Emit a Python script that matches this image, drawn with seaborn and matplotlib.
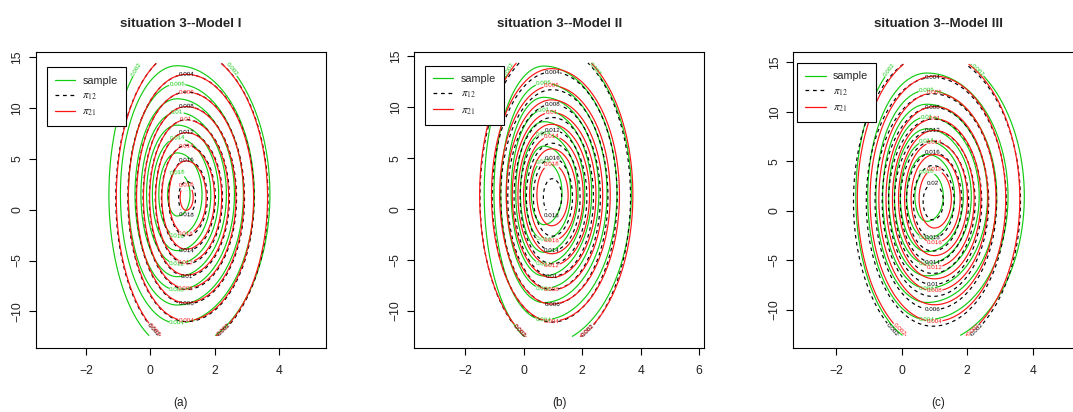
import numpy as np
import matplotlib
matplotlib.use('Agg')
import matplotlib.pyplot as plt
from matplotlib.lines import Line2D
from matplotlib.ticker import MultipleLocator
import seaborn as sns

sns.set_theme(style='white')
plt.rcParams['font.family'] = ['Liberation Sans', 'DejaVu Sans']
plt.rcParams['mathtext.fontset'] = 'stix'
plt.rcParams['lines.dashed_pattern'] = [3.0, 3.0]

# contour levels, titles, legend entries
levels = [0.002, 0.004, 0.006, 0.008, 0.010, 0.012, 0.014, 0.016, 0.018, 0.020]
titles = ['situation 3--Model I', 'situation 3--Model II', 'situation 3--Model III']
captions = ['(a)', '(b)', '(c)']
series = ['sample', r'$\pi_{12}$', r'$\pi_{21}$']

# density, order: sample, pi12, pi21
mode_x = [[0.83, 1.12, 1.11], [0.68, 0.97, 0.95], [0.77, 0.95, 1.00]]
mode_y = [[1.50, 1.15, 1.20], [1.60, 1.20, 1.40], [1.45, 0.90, 1.20]]
sd_left = [[1.00, 1.04, 1.03], [0.95, 1.17, 1.15], [1.02, 1.12, 1.10]]
sd_right = [[1.36, 1.20, 1.20], [1.40, 1.27, 1.30], [1.40, 1.24, 1.22]]
sd_y = [[7.20, 6.95, 6.95], [6.95, 7.00, 6.93], [7.03, 6.93, 6.94]]
peak = [[0.0188, 0.0185, 0.0183], [0.0199, 0.0186, 0.0198], [0.0192, 0.0207, 0.0197]]

# range of the evaluation grid in each panel
grid_x = [(-3.2, 5.1), (-3.4, 5.8), (-3.0, 5.2)]
grid_y = [(-12.4, 14.4), (-12.5, 14.35), (-12.6, 14.8)]

# style
colors = ['#12cc12', 'black', '#ff1414']
styles = ['solid', 'dashed', 'solid']
xlims = [(-3.55, 5.45), (-3.75, 6.18), (-3.31, 5.55)]
ylims = [(-13.64, 15.49), (-13.65, 15.40), (-13.9, 16.0)]
ax_left = [36 / 1073, 414.3 / 1073, 793.3 / 1073]
leg_anchor = [(0.037, 0.949), (0.037, 0.954), (0.014, 0.963)]


def density(g, k, X, Y):
    dx = X - mode_x[g][k]
    sx = np.where(dx < 0, sd_left[g][k], sd_right[g][k])
    q = (dx / sx) ** 2 + ((Y - mode_y[g][k]) / sd_y[g][k]) ** 2
    return peak[g][k] * np.exp(-q / 2)


def label_points(g, k):
    # one label per ring, alternating top / bottom; open rings get a label on each arc
    mx, my, sy, p = mode_x[g][k], mode_y[g][k], sd_y[g][k], peak[g][k]
    y0, y1 = grid_y[g]
    pts = []
    for i, lev in enumerate(levels):
        if lev >= p:
            continue
        r = np.sqrt(2 * np.log(p / lev))
        if my + r * sy < y1 and my - r * sy > y0:
            side = 1 if (i + k) % 2 == 0 else -1
            pts.append((mx, my + side * r * sy))
        else:
            edge = y1 - 0.6 if k == 0 else y0 + 0.6
            t = (edge - my) / sy
            w = np.sqrt(max(r * r - t * t, 0))
            pts.append((mx - sd_left[g][k] * w, edge))
            pts.append((mx + sd_right[g][k] * w, edge))
    return pts


fig = plt.figure(figsize=(10.73, 4.12), dpi=100)

for g in range(3):
    ax = fig.add_axes([ax_left[g], 63.7 / 412, 290 / 1073, 296 / 412])
    xs = np.linspace(grid_x[g][0], grid_x[g][1], 300)
    ys = np.linspace(grid_y[g][0], grid_y[g][1], 300)
    X, Y = np.meshgrid(xs, ys)

    for k in range(3):
        Z = density(g, k, X, Y)
        used = [lv for lv in levels if lv < peak[g][k]]
        cs = ax.contour(X, Y, Z, levels=used, colors=colors[k],
                        linestyles=styles[k], linewidths=0.85)
        ax.clabel(cs, used, fontsize=4.5, fmt='%g', inline=True,
                  inline_spacing=1, manual=label_points(g, k))

    ax.set_xlim(xlims[g])
    ax.set_ylim(ylims[g])
    ax.xaxis.set_major_locator(MultipleLocator(2))
    ax.yaxis.set_major_locator(MultipleLocator(5))
    ax.tick_params(axis='both', bottom=True, left=True, direction='out',
                   length=5, width=0.8, color='black', labelsize=8.7,
                   labelcolor='#222222')
    ax.tick_params(axis='x', pad=7)
    ax.tick_params(axis='y', pad=4)
    for lab in ax.get_yticklabels():
        lab.set_rotation(90)
        lab.set_va('center')
    for sp in ax.spines.values():
        sp.set_color('black')
        sp.set_linewidth(0.8)

    ax.set_title(titles[g], fontsize=9.6, fontweight='bold', pad=18)
    ax.text(0.5, -0.185, captions[g], transform=ax.transAxes,
            ha='center', va='center', fontsize=8.5, color='#222222')

    handles = [Line2D([], [], color=colors[k], linestyle=styles[k], linewidth=0.9)
               for k in range(3)]
    leg = ax.legend(handles, series, loc='upper left', bbox_to_anchor=leg_anchor[g],
                    borderaxespad=0, fontsize=7.8, frameon=True, fancybox=False,
                    borderpad=0.75, handlelength=1.85, handletextpad=0.7,
                    labelspacing=0.45)
    leg.get_frame().set_edgecolor('black')
    leg.get_frame().set_linewidth(0.8)
    leg.get_frame().set_alpha(1)

fig.savefig('out.png', dpi=100)
